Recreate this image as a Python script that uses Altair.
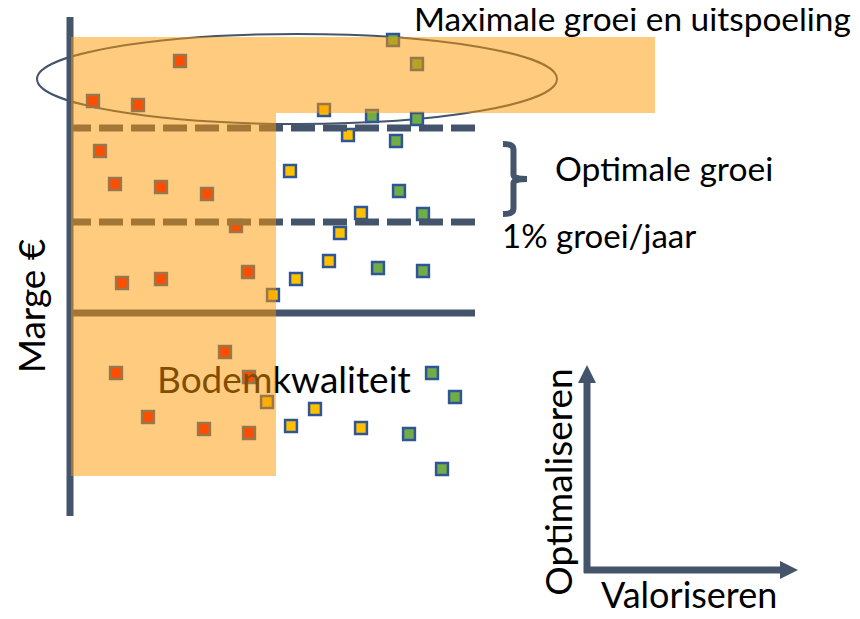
import altair as alt
import pandas as pd

# plot-area frame, expressed in picture pixels
W, H = 844, 603
X0, X1, Y0, Y1 = 8, 852, 8, 611

# ---- data (pixel-like coordinates) ----
red_x = [180, 93, 138, 100, 115, 161, 207, 236, 248, 122, 161, 225, 116, 249, 148, 204, 249]
red_y = [61, 101, 105, 151, 184, 187, 194, 226, 272, 283, 279, 352, 373, 377, 417, 429, 433]
yellow_x = [324, 348, 290, 361, 340, 329, 296, 273, 267, 315, 291, 361]
yellow_y = [110, 135, 171, 213, 233, 261, 279, 295, 402, 409, 426, 428]
green_x = [393, 417, 372, 417, 396, 399, 423, 378, 423, 432, 455, 442, 409]
green_y = [40, 64, 116, 119, 141, 191, 214, 268, 271, 373, 397, 469, 434]

# zones
zone_x = [71, 71]
zone_x2 = [655, 276]
zone_y = [37, 113]
zone_y2 = [113, 476]

# lines
dash_x, dash_x2, dash_y = [67, 67], [475, 475], [128, 222]
solid_x, solid_x2, solid_y, solid_y2 = [71, 70, 587, 584], [475, 70, 587, 781], [313, 17, 382, 570], [313, 516, 573, 570]

# labels
h_text = ["Maximale groei en uitspoeling", "Optimale groei", "1% groei/jaar", "Bodemkwaliteit", "Valoriseren"]
h_x = [414, 555, 502, 157, 601]
h_y = [31, 181, 248, 393, 608]
h_sizes = [33.4, 33.6, 33, 37, 36]
v_text = ["Marge €", "Optimaliseren"]
v_x = [45, 572]
v_y = [306, 482]
v_sizes = [37, 37]

FONT = "Lato"
SLATE = "#44546A"

xs = alt.Scale(domain=[X0, X1], nice=False, zero=False)
ys = alt.Scale(domain=[Y1, Y0], nice=False, zero=False)


def ex(f):
    return alt.X(f, type="quantitative", scale=xs, axis=None)


def ey(f):
    return alt.Y(f, type="quantitative", scale=ys, axis=None)


pts = pd.DataFrame({
    "x": red_x + yellow_x + green_x,
    "y": red_y + yellow_y + green_y,
    "grp": ["red"] * len(red_x) + ["yellow"] * len(yellow_x) + ["green"] * len(green_x),
})

markers = alt.Chart(pts).mark_point(
    shape="square", filled=True, size=140, stroke="#2F5597", strokeWidth=2.5, opacity=1, fillOpacity=1
).encode(
    x=ex("x"), y=ey("y"),
    fill=alt.Fill("grp:N", scale=alt.Scale(domain=["red", "yellow", "green"],
                                           range=["#FF0000", "#FFC000", "#70AD47"]), legend=None),
)

dashes = alt.Chart(pd.DataFrame({"x": dash_x, "x2": dash_x2, "y": dash_y})).mark_rule(
    color=SLATE, strokeWidth=7, strokeDash=[24, 8]
).encode(x=ex("x"), x2="x2:Q", y=ey("y"))

solids = alt.Chart(pd.DataFrame({"x": solid_x, "x2": solid_x2, "y": solid_y, "y2": solid_y2})).mark_rule(
    color=SLATE, strokeWidth=7
).encode(x=ex("x"), x2="x2:Q", y=ey("y"), y2="y2:Q")

ELLIPSE = ("M-1,0 C-1,-0.0956 -0.5523,-0.1731 0,-0.1731 C0.5523,-0.1731 1,-0.0956 1,0 "
           "C1,0.0956 0.5523,0.1731 0,0.1731 C-0.5523,0.1731 -1,0.0956 -1,0 Z")
ellipse = alt.Chart(pd.DataFrame({"x": [297], "y": [79]})).mark_point(
    shape=ELLIPSE, size=520 ** 2, filled=False, color=SLATE, strokeWidth=2, opacity=1
).encode(x=ex("x"), y=ey("y"))

BRACE = ("M-0.343,-1 Q-0.043,-1 -0.043,-0.85 L-0.043,-0.12 Q-0.043,0 0.343,0 "
         "Q-0.043,0 -0.043,0.12 L-0.043,0.85 Q-0.043,1 -0.343,1")
brace = alt.Chart(pd.DataFrame({"x": [515], "y": [179]})).mark_point(
    shape=BRACE, size=70 ** 2, filled=False, color=SLATE, strokeWidth=6, opacity=1
).encode(x=ex("x"), y=ey("y"))

arrow_up = alt.Chart(pd.DataFrame({"x": [587], "y": [374]})).mark_point(
    shape="M0,-1L1,1L-1,1Z", size=18 ** 2, filled=True, color=SLATE, opacity=1
).encode(x=ex("x"), y=ey("y"))
arrow_right = alt.Chart(pd.DataFrame({"x": [789], "y": [570]})).mark_point(
    shape="M1,0L-1,1L-1,-1Z", size=18 ** 2, filled=True, color=SLATE, opacity=1
).encode(x=ex("x"), y=ey("y"))

htexts = alt.Chart(pd.DataFrame({"t": h_text, "x": h_x, "y": h_y, "s": h_sizes})).mark_text(
    align="left", baseline="alphabetic", font=FONT, color="black"
).encode(x=ex("x"), y=ey("y"), text="t:N", size=alt.Size("s:Q", scale=None, legend=None))

vtexts = alt.Chart(pd.DataFrame({"t": v_text, "x": v_x, "y": v_y, "s": v_sizes})).mark_text(
    align="center", baseline="alphabetic", font=FONT, color="black", angle=270
).encode(x=ex("x"), y=ey("y"), text="t:N", size=alt.Size("s:Q", scale=None, legend=None))

zones = alt.Chart(pd.DataFrame({"x": zone_x, "x2": zone_x2, "y": zone_y, "y2": zone_y2})).mark_rect(
    color="#FF9900", opacity=0.5
).encode(x=ex("x"), x2="x2:Q", y=ey("y"), y2="y2:Q")

chart = alt.layer(
    ellipse, markers, dashes, solids, brace, arrow_up, arrow_right, htexts, vtexts, zones
).properties(
    width=W, height=H, padding=0, autosize=alt.AutoSizeParams(type="none"), background="white"
).configure_view(stroke=None)

chart.save("out.html", embed_options={"renderer": "svg", "actions": False})
